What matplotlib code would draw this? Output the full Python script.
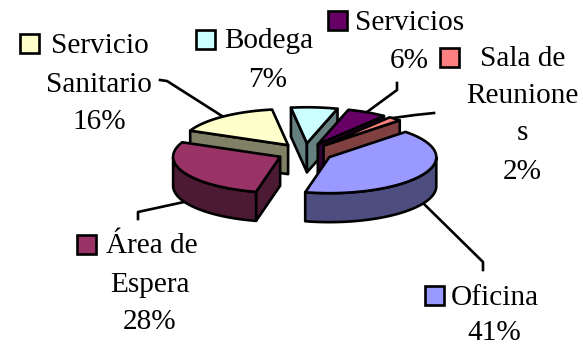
import numpy as np
import matplotlib
matplotlib.use('Agg')
import matplotlib.pyplot as plt
from matplotlib.patches import Polygon, Rectangle

# data, clockwise from the start angle
names = ['Oficina', 'Área de Espera', 'Servicio Sanitario', 'Bodega', 'Servicios', 'Sala de Reuniones']
shares = [41, 28, 16, 7, 6, 2]
top_colors = ['#9999FF', '#993366', '#FFFFCC', '#CCFFFF', '#660066', '#FF8080']
side_colors = ['#4D4D80', '#4D1A33', '#808066', '#668080', '#330033', '#804040']

# label text, one list per slice, wrapped the way the chart wraps them
label_lines = [['Oficina', '41%'],
               ['Área de', 'Espera', '28%'],
               ['Servicio', 'Sanitario', '16%'],
               ['Bodega', '7%'],
               ['Servicios', '6%'],
               ['Sala de', 'Reunione', 's', '2%']]

# ------- layout (pixels of the 583x346 picture) -------
CX, CY = 305, 152.6
RX, RY = 107, 36
DEPTH = 29
EXPLODE = 0.26
START_ANGLE = 44.6
LW = 1.9
FONT_SIZE = 21.1

# centre x of the lines and baseline y of each line
label_x = [494, 150, 99, 268, 409, 522]
label_y = [[305, 340], [253, 292, 329], [53, 92, 129], [48, 87], [30, 68], [66, 103, 140, 179]]
# first line sits a little off because of the swatch
first_line_x = [494.5, 151.5, 99.5, 269, 409.5, 523]
swatches = [(425, 286), (77, 235), (20, 34), (196, 30), (328, 11), (440, 48)]
SWATCH = 19

leaders = [[(483, 270), (483, 262), (423, 203)],
           [(138, 219), (138, 212), (184, 202)],
           [(160, 80), (167, 81), (222, 116)],
           [],
           [(397, 83), (397, 90), (367, 112)],
           [(434, 113), (415, 115), (393, 118)]]

plt.rcParams['font.family'] = ['Liberation Serif', 'DejaVu Serif']

fig = plt.figure(figsize=(5.83, 3.46), dpi=100)
ax = fig.add_axes([0, 0, 1, 1])
ax.set_xlim(0, 583)
ax.set_ylim(346, 0)
ax.axis('off')


def rim(theta, cx, cy):
    # point on the ellipse, theta in degrees, y goes down on the picture
    t = np.radians(theta)
    return np.column_stack([cx + RX * np.cos(t), cy - RY * np.sin(t)])


def add_poly(pts, color, z):
    ax.add_patch(Polygon(pts, closed=True, facecolor=color, edgecolor='black',
                         linewidth=LW, joinstyle='round', zorder=z))


def wall(p, q, color, z):
    pts = np.array([p, q, q + [0, DEPTH], p + [0, DEPTH]])
    add_poly(pts, color, z)


def faces_front(edge, other):
    # outward normal of a cut face, True if it points down the picture
    n = np.array([-edge[1], edge[0]])
    if n @ other > 0:
        n = -n
    return n[1] > 0


# slice angles from the shares
total = sum(shares)
spans = [s / total * 360 for s in shares]
ends = START_ANGLE - np.cumsum(spans)
starts = ends + np.array(spans)
mids = (starts + ends) / 2

# back slices first
order = np.argsort(-np.sin(np.radians(mids)))
z = 2
for i in order:
    cx = CX + EXPLODE * RX * np.cos(np.radians(mids[i]))
    cy = CY - EXPLODE * RY * np.sin(np.radians(mids[i]))
    apex = np.array([cx, cy])
    theta = np.linspace(starts[i], ends[i], 80)
    arc = rim(theta, cx, cy)

    # cut faces
    first = arc[0] - apex
    last = arc[-1] - apex
    if faces_front(first, last):
        wall(apex, arc[0], side_colors[i], z)
        z += 1
    if faces_front(last, first):
        wall(apex, arc[-1], side_colors[i], z)
        z += 1

    # outer wall, front half of the ellipse only
    front = np.sin(np.radians(theta)) <= 0
    if front.any():
        fr = arc[front]
        add_poly(np.vstack([fr, fr[::-1] + [0, DEPTH]]), side_colors[i], z)
        z += 1

    add_poly(np.vstack([apex, arc]), top_colors[i], z)
    z += 1

# leader lines
for line in leaders:
    if line:
        xs, ys = zip(*line)
        ax.plot(xs, ys, color='black', lw=LW, solid_joinstyle='round', zorder=1)

# labels with little colour key
for i in range(len(names)):
    sx, sy = swatches[i]
    ax.add_patch(Rectangle((sx, sy), SWATCH, SWATCH, facecolor=top_colors[i],
                           edgecolor='black', linewidth=LW, zorder=30))
    for k, txt in enumerate(label_lines[i]):
        x = first_line_x[i] if k == 0 else label_x[i]
        ax.text(x, label_y[i][k], txt, ha='center', va='baseline', fontsize=FONT_SIZE,
                color='black', zorder=30)

fig.savefig('out.png', dpi=100)
